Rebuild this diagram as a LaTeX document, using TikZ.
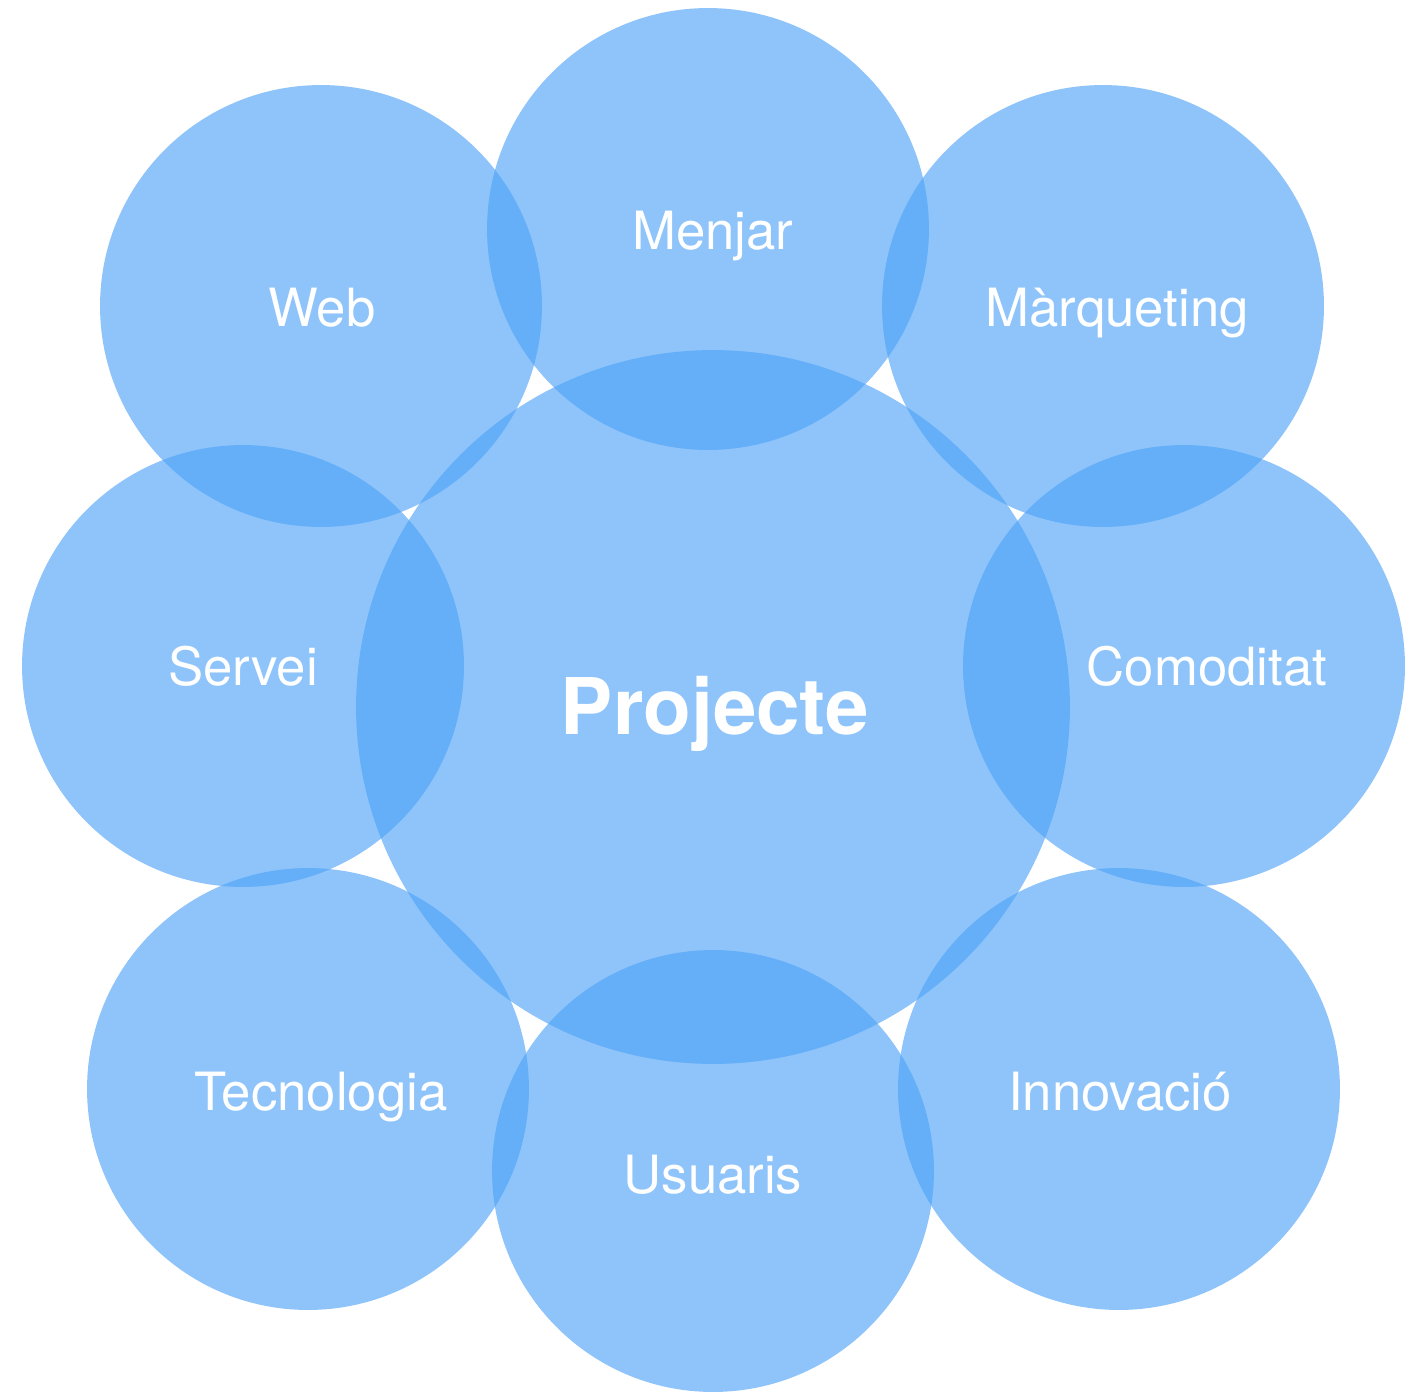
\documentclass[tikz,border=0pt]{standalone}
\usepackage{fontspec}
\setmainfont{TeX Gyre Heros}

\definecolor{bubbleblue}{RGB}{76,161,247}

\begin{document}
\begin{tikzpicture}[x=0.02cm, y=-0.02cm,
    bubble/.style={circle, fill=bubbleblue, fill opacity=0.63, inner sep=0pt, minimum size=8.84cm},
    topic/.style={anchor=base, text=white, font=\fontsize{30}{36}\selectfont},
    hub/.style={anchor=base, text=white, font=\fontsize{44.5}{52}\selectfont\bfseries}]
    \useasboundingbox (0,0) rectangle (1421,1393);
    % the circles
    \node[bubble, minimum size=14.28cm] (projecte) at (713,707) {};
    \node[bubble] (menjar) at (708,229) {};
    \node[bubble] (web) at (321,306) {};
    \node[bubble] (marqueting) at (1103,306) {};
    \node[bubble] (servei) at (243,666) {};
    \node[bubble] (comoditat) at (1184,666) {};
    \node[bubble] (tecnologia) at (308,1089) {};
    \node[bubble] (usuaris) at (713,1171) {};
    \node[bubble] (innovacio) at (1119,1089) {};
    % the labels
    \node[hub] (projecte-txt) at (715,734) {Projecte};
    \node[topic] (menjar-txt) at (713,249) {Menjar};
    \node[topic] (web-txt) at (322,326) {Web};
    \node[topic] (marqueting-txt) at (1117,326) {Màrqueting};
    \node[topic] (servei-txt) at (243,685) {Servei};
    \node[topic] (comoditat-txt) at (1207,685) {Comoditat};
    \node[topic] (tecnologia-txt) at (321,1110) {Tecnologia};
    \node[topic] (usuaris-txt) at (713,1193) {Usuaris};
    \node[topic] (innovacio-txt) at (1120,1110) {Innovació};
\end{tikzpicture}
\end{document}
